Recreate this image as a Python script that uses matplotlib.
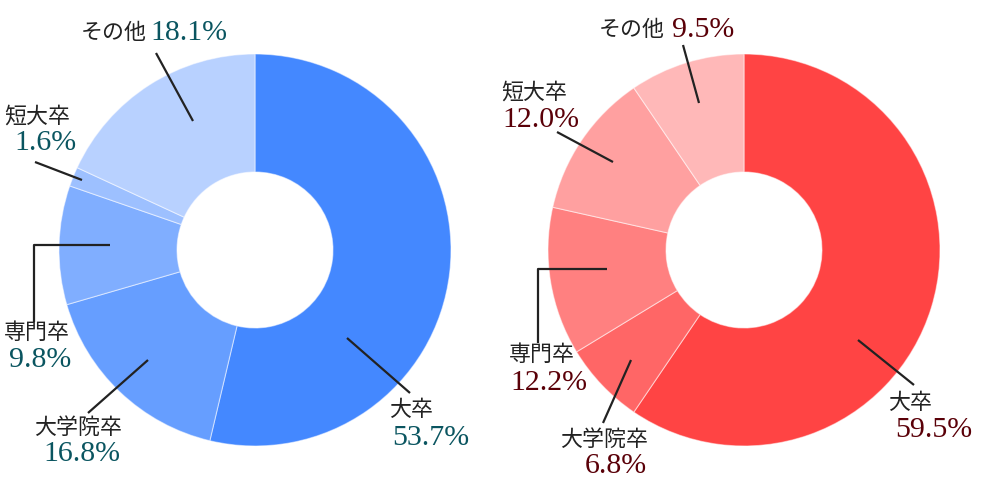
import matplotlib.pyplot as plt

labels = ['大卒', '大学院卒', '専門卒', '短大卒', 'その他']
left_values = [53.7, 16.8, 9.8, 1.6, 18.1]
right_values = [59.5, 6.8, 12.2, 12.0, 9.5]

left_colors = ['#4488ff', '#669eff', '#80aeff', '#9dc0ff', '#b8d1ff']
right_colors = ['#ff4444', '#ff6666', '#ff8080', '#ffa0a0', '#ffb8b8']

JP = 'Noto Sans CJK JP'
NUM = 'Liberation Serif'

# label layout in pixel coords: (name x, name y, pct x, pct y)
left_layout = {
    '大卒': (389, 410, 392, 438),
    '大学院卒': (34, 428, 43, 454),
    '専門卒': (4, 333, 9, 360),
    '短大卒': (4, 117, 14, 143),
    'その他': (81, 33, 150, 33),
}
right_layout = {
    '大卒': (888, 403, 895, 430),
    '大学院卒': (560, 440, 585, 466),
    '専門卒': (509, 355, 510, 383),
    '短大卒': (501, 93, 502, 120),
    'その他': (599, 30, 672, 30),
}

# leader lines (pixel coords)
left_lines = [
    [(347, 338), (410, 393)],
    [(148, 360), (88, 413)],
    [(110, 245), (34, 245), (34, 322)],
    [(82, 180), (35, 162)],
    [(193, 121), (156, 53)],
]
right_lines = [
    [(858, 340), (914, 385)],
    [(631, 360), (603, 423)],
    [(607, 269), (538, 269), (538, 343)],
    [(613, 162), (557, 132)],
    [(699, 103), (683, 45)],
]

fig = plt.figure(figsize=(10, 5), dpi=100)
ax = fig.add_axes([0, 0, 1, 1])


def donut(values, colors, center, layout, lines, pct_color):
    ax.pie(values, colors=colors, startangle=-90, counterclock=True,
           center=center, radius=196, frame=True,
           wedgeprops=dict(width=118, edgecolor=(1, 1, 1, 0.5), linewidth=0.8))
    for pts in lines:
        xs = [p[0] for p in pts]
        ys = [p[1] for p in pts]
        ax.plot(xs, ys, color='#222222', lw=1.6, solid_capstyle='butt')
    for name, val in zip(labels, values):
        nx, ny, px, py = layout[name]
        ax.text(nx, ny, name, family=JP, fontsize=15.8, color='#222222',
                ha='left', va='center')
        ax.text(px, py, f'{val:.1f}%', family=NUM, fontsize=21.5,
                color=pct_color, ha='left', va='center')


donut(left_values, left_colors, (255, 250), left_layout, left_lines, '#0a5560')
donut(right_values, right_colors, (744, 250), right_layout, right_lines, '#5a0008')

ax.set_xlim(0, 1000)
ax.set_ylim(500, 0)
ax.set_aspect('equal')
ax.axis('off')

fig.savefig('out.png', dpi=100)
